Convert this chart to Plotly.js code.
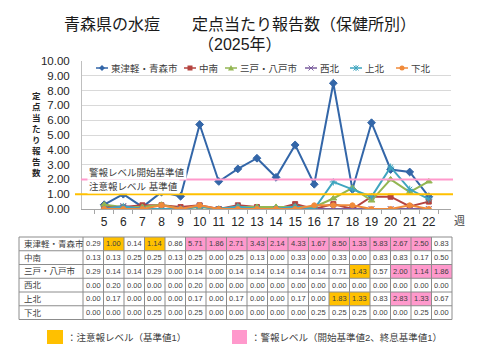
<!DOCTYPE html>
<html><head><meta charset="utf-8">
<script src="https://cdn.plot.ly/plotly-3.0.1.min.js"></script>
<style>html,body{margin:0;padding:0;background:#fff}</style>
</head><body><div id="chart" style="width:480px;height:360px"></div>
<script>
// ---- data ----
const weeks = ['5','6','7','8','9','10','11','12','13','14','15','16','17','18','19','20','21','22'];
const regionNames = ['東津軽・青森市','中南','三戸・八戸市','西北','上北','下北'];
const higashiTsugaruAomori = [0.29,1.00,0.14,1.14,0.86,5.71,1.86,2.71,3.43,2.14,4.33,1.67,8.50,1.33,5.83,2.67,2.50,0.83];
const chunan               = [0.13,0.13,0.25,0.25,0.13,0.25,0.00,0.25,0.13,0.00,0.33,0.00,0.33,0.00,0.83,0.83,0.17,0.50];
const sannoheHachinohe     = [0.29,0.14,0.14,0.29,0.00,0.14,0.00,0.14,0.14,0.14,0.14,0.14,0.71,1.43,0.57,2.00,1.14,1.86];
const seihoku              = [0.00,0.20,0.00,0.00,0.00,0.20,0.00,0.00,0.00,0.00,0.00,0.00,0.00,0.00,0.00,0.00,0.00,0.00];
const kamikita             = [0.00,0.17,0.00,0.00,0.00,0.17,0.00,0.17,0.00,0.00,0.17,0.00,1.83,1.33,0.83,2.83,1.33,0.67];
const shimokita            = [0.00,0.00,0.00,0.25,0.00,0.25,0.00,0.00,0.00,0.00,0.00,0.25,0.25,0.25,0.00,0.00,0.25,0.00];
const WARN_START = 2;   // 警報レベル開始基準値
const ADVISORY = 1;     // 注意報レベル基準値 / 警報終息基準値

// ---- styles ----
const allSeries = [higashiTsugaruAomori, chunan, sannoheHachinohe, seihoku, kamikita, shimokita];
const colors = ['#3366a8','#b5433f','#93b653','#7b5e9e','#3fa5bf','#f08a3a'];
const symbols = ['diamond','square','triangle-up','x-thin-open','asterisk-open','circle'];
const sizes = [6,5,6,6,6,5];
const ORANGE = '#ffc000', PINK = '#ff99cc';
const CJK = 'Liberation Sans, Noto Sans CJK JP, sans-serif';
const TXT = '#404040';
const W = 480, H = 360;
const px = x => x / W, py = y => 1 - y / H;

const traces = allSeries.map((s, i) => ({
  type: 'scatter', mode: 'lines+markers', name: regionNames[i],
  x: weeks, y: s, showlegend: false,
  line: {color: colors[i], width: 2},
  marker: {symbol: symbols[i], size: sizes[i], color: colors[i], line: {color: colors[i], width: 1}}
}));

// status: '' none, 'A' advisory, 'W' warning
const status = allSeries.map(s => {
  let warn = false;
  return s.map(v => {
    if (warn) { if (v < ADVISORY) warn = false; }
    else if (v >= WARN_START) warn = true;
    return warn ? 'W' : (v >= ADVISORY ? 'A' : '');
  });
});
const fillOf = st => st === 'W' ? PINK : (st === 'A' ? ORANGE : null);

// ---- shapes & annotations ----
const shapes = [
  {type: 'line', xref: 'paper', yref: 'y', x0: px(81), x1: px(453), y0: WARN_START, y1: WARN_START, line: {color: PINK, width: 2}},
  {type: 'line', xref: 'paper', yref: 'y', x0: px(75), x1: px(453), y0: ADVISORY, y1: ADVISORY, line: {color: ORANGE, width: 2}},
  {type: 'rect', xref: 'paper', yref: 'paper', x0: px(47), x1: px(63), y0: py(344), y1: py(330), fillcolor: ORANGE, line: {width: 0}},
  {type: 'rect', xref: 'paper', yref: 'paper', x0: px(232), x1: px(247), y0: py(344), y1: py(330), fillcolor: PINK, line: {width: 0}}
];
const A = (o) => Object.assign({xref: 'paper', yref: 'paper', showarrow: false, xanchor: 'center', yanchor: 'middle'}, o);
const annotations = [
  A({x: 0.5, y: py(25), text: '青森県の水痘　　定点当たり報告数（保健所別）', font: {family: CJK, size: 16, color: '#1a1a1a'}}),
  A({x: 0.5, y: py(44), text: '（2025年）', font: {family: CJK, size: 16, color: '#1a1a1a'}}),
  A({yref: 'y', x: px(87), y: 2.5, xanchor: 'left', text: '警報レベル開始基準値', bgcolor: '#ffffff', font: {family: CJK, size: 9.5, color: TXT}}),
  A({yref: 'y', x: px(87), y: 1.5, xanchor: 'left', text: '注意報レベル 基準値', bgcolor: '#ffffff', font: {family: CJK, size: 9.5, color: TXT}}),
  A({x: px(459), y: py(221), text: '週', font: {family: CJK, size: 11, color: TXT}}),
  A({x: px(65), y: py(337), xanchor: 'left', text: '：注意報レベル（基準値1）', font: {family: CJK, size: 9.5, color: TXT}}),
  A({x: px(249), y: py(337), xanchor: 'left', text: '：警報レベル（開始基準値2、終息基準値1）', font: {family: CJK, size: 9.5, color: TXT}}),
  // vertical (stacked) y-axis title
  A({x: px(36), y: py(134), text: '定点当たり報告数'.split('').join('<br>'),
    font: {family: CJK, size: 8.5, color: '#262626', weight: 'bold'}})
];
// custom legend
const LEG_X = [96, 184, 225, 305, 350, 396], LEG_Y = 68, SYM_L = 12;
regionNames.forEach((nm, i) => {
  const x0 = LEG_X[i], cx = x0 + SYM_L / 2, cy = LEG_Y, c = colors[i];
  shapes.push({type: 'line', xref: 'paper', yref: 'paper', x0: px(x0), x1: px(x0 + SYM_L), y0: py(cy), y1: py(cy), line: {color: c, width: 1.5}});
  const r = 2.5;
  const P = (pts) => 'M' + pts.map(p => px(p[0]) + ',' + py(p[1])).join(' L');
  let sh;
  if (symbols[i] === 'diamond') sh = {type: 'path', path: P([[cx, cy - 3], [cx + 3, cy], [cx, cy + 3], [cx - 3, cy]]) + ' Z', fillcolor: c, line: {width: 0}};
  else if (symbols[i] === 'square') sh = {type: 'rect', x0: px(cx - r), x1: px(cx + r), y0: py(cy + r), y1: py(cy - r), fillcolor: c, line: {width: 0}};
  else if (symbols[i] === 'triangle-up') sh = {type: 'path', path: P([[cx, cy - 3], [cx + 3, cy + 2.5], [cx - 3, cy + 2.5]]) + ' Z', fillcolor: c, line: {width: 0}};
  else if (symbols[i] === 'x-thin-open') sh = {type: 'path', path: P([[cx - r, cy - r], [cx + r, cy + r]]) + ' ' + P([[cx - r, cy + r], [cx + r, cy - r]]), line: {color: c, width: 1}};
  else if (symbols[i] === 'asterisk-open') sh = {type: 'path', path: P([[cx - r, cy - r], [cx + r, cy + r]]) + ' ' + P([[cx - r, cy + r], [cx + r, cy - r]]) + ' ' + P([[cx, cy - 3], [cx, cy + 3]]), line: {color: c, width: 1}};
  else sh = {type: 'circle', x0: px(cx - r), x1: px(cx + r), y0: py(cy + r), y1: py(cy - r), fillcolor: c, line: {width: 0}};
  sh.xref = 'paper'; sh.yref = 'paper';
  shapes.push(sh);
  annotations.push(A({x: px(x0 + SYM_L + 1), y: py(cy), xanchor: 'left', text: nm, font: {family: CJK, size: 9.5, color: TXT}}));
});

// data table (cells drawn from the series arrays)
const TX0 = 19, LABW = 64, COLW = 20.5, TY0 = 237, ROWH = 13.75;
const TX1 = TX0 + LABW + COLW * weeks.length, TY1 = TY0 + ROWH * regionNames.length;
regionNames.forEach((nm, r) => {
  const yc = TY0 + r * ROWH + ROWH / 2;
  annotations.push(A({x: px(TX0 + 3), y: py(yc), xanchor: 'left', text: nm, font: {family: CJK, size: 8.5, color: TXT}}));
  allSeries[r].forEach((v, j) => {
    const xl = TX0 + LABW + j * COLW;
    const f = fillOf(status[r][j]);
    if (f) shapes.push({type: 'rect', xref: 'paper', yref: 'paper', x0: px(xl), x1: px(xl + COLW), y0: py(TY0 + (r + 1) * ROWH), y1: py(TY0 + r * ROWH), fillcolor: f, line: {width: 0}});
    annotations.push(A({x: px(xl + COLW / 2), y: py(yc), text: v.toFixed(2), font: {family: 'Liberation Sans, sans-serif', size: 7.5, color: TXT}}));
  });
});
for (let r = 0; r <= regionNames.length; r++) {
  const y = TY0 + r * ROWH;
  shapes.push({type: 'line', xref: 'paper', yref: 'paper', x0: px(TX0), x1: px(TX1), y0: py(y), y1: py(y), line: {color: '#8c8c8c', width: 1}});
}
for (let c = 0; c <= weeks.length + 1; c++) {
  const x = c === 0 ? TX0 : TX0 + LABW + (c - 1) * COLW;
  shapes.push({type: 'line', xref: 'paper', yref: 'paper', x0: px(x), x1: px(x), y0: py(TY0), y1: py(TY1), line: {color: '#8c8c8c', width: 1}});
}

const layout = {
  width: W, height: H, margin: {l: 0, r: 0, t: 0, b: 0},
  paper_bgcolor: '#ffffff', plot_bgcolor: '#ffffff', showlegend: false,
  xaxis: {domain: [px(82), px(451)], type: 'category', showline: true, linecolor: '#a6a6a6', linewidth: 1,
    ticks: 'outside', tickson: 'boundaries', ticklen: 4, tickcolor: '#a6a6a6', showgrid: false, tickangle: 0,
    ticklabelstandoff: 2, tickfont: {family: CJK, size: 12, color: '#262626'}, fixedrange: true},
  yaxis: {domain: [py(209), py(61)], range: [0, 10], dtick: 1, tickformat: '.2f', showline: true, linecolor: '#bfbfbf',
    gridcolor: '#d9d9d9', zeroline: false, ticks: '', ticklabelstandoff: 9,
    tickfont: {family: CJK, size: 11.5, color: '#262626'}, fixedrange: true},
  shapes: shapes, annotations: annotations
};
Plotly.newPlot('chart', traces, layout, {displayModeBar: false, staticPlot: true});
</script></body></html>
